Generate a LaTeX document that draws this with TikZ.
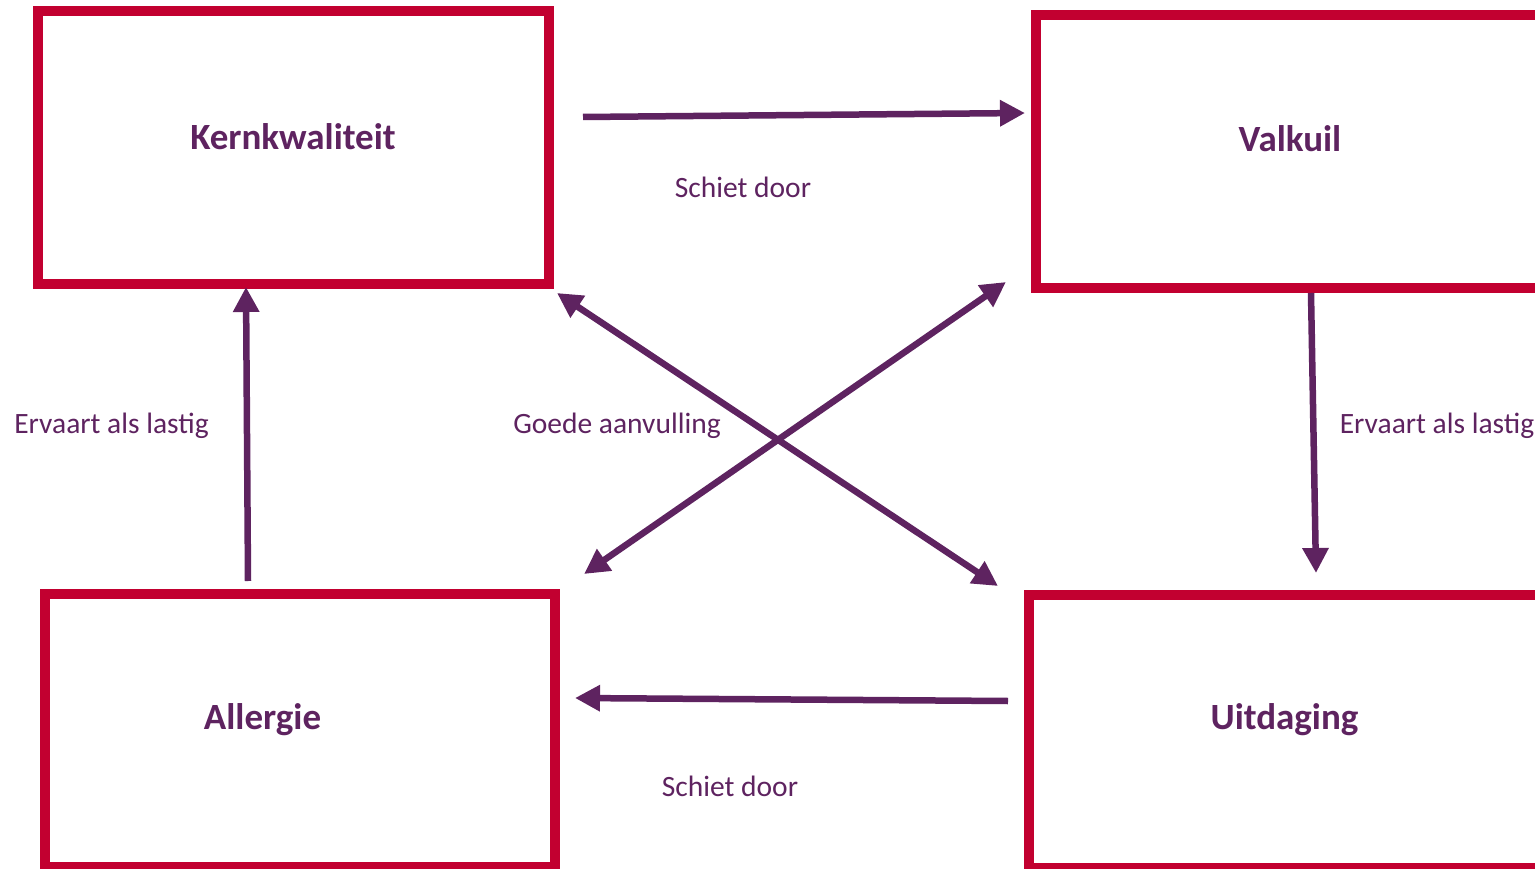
\documentclass[tikz,border=0pt]{standalone}
\usepackage{fontspec}
\setmainfont{Carlito}
\usetikzlibrary{arrows.meta}
\definecolor{boxred}{RGB}{194,0,48}
\definecolor{plum}{RGB}{94,35,96}
\tikzset{
  quadrant/.style={draw=boxred, line width=10pt, fill=white, rectangle, inner sep=0pt, outer sep=0pt, minimum height=273pt},
  title/.style={text=plum, font=\fontsize{37}{44}\selectfont\bfseries, inner sep=0pt},
  relation/.style={text=plum, font=\fontsize{29.5}{35}\selectfont, inner sep=0pt},
  link/.style={draw=plum, line width=6.5pt, -{Triangle[length=25pt,width=25pt]}},
  duallink/.style={draw=plum, line width=6.5pt, {Triangle[length=25pt,width=25pt]}-{Triangle[length=25pt,width=25pt]}}
}
\begin{document}
\begin{tikzpicture}[x=1pt, y=-1pt]
  \useasboundingbox (0,0) rectangle (1535,869);
  \clip (0,0) rectangle (1535,869);

  % the four quadrants
  \node[quadrant, minimum width=511pt]   (kbox) at (293.5,147.5) {};
  \node[quadrant, minimum width=505pt]   (vbox) at (1288.5,151.5) {};
  \node[quadrant, minimum width=510.5pt] (abox) at (299.75,730.5) {};
  \node[quadrant, minimum width=512.5pt] (ubox) at (1284.75,731.5) {};

  \node[title] (ktitle) at (293,137) {Kernkwaliteit};
  \node[title] (vtitle) at (1290,139) {Valkuil};
  \node[title] (atitle) at (262.5,720) {Allergie};
  \node[title] (utitle) at (1284.5,720) {Uitdaging};

  % arrow end points
  \coordinate (kv1) at (583,117);
  \coordinate (kv2) at (1025,113);
  \coordinate (vu1) at (1311,293);
  \coordinate (vu2) at (1316,573);
  \coordinate (ua1) at (1008,701);
  \coordinate (ua2) at (575,698);
  \coordinate (ak1) at (248,581);
  \coordinate (ak2) at (246,287);
  \coordinate (d1a) at (557,293);
  \coordinate (d1b) at (998,586);
  \coordinate (d2a) at (584,574);
  \coordinate (d2b) at (1006,282);

  \draw[link] (kv1) -- (kv2);
  \draw[link] (vu1) -- (vu2);
  \draw[link] (ua1) -- (ua2);
  \draw[link] (ak1) -- (ak2);
  \draw[duallink] (d1a) -- (d1b);
  \draw[duallink] (d2a) -- (d2b);

  % relation labels
  \node[relation] (l1) at (743,187) {Schiet door};
  \node[relation] (l2) at (730,786) {Schiet door};
  \node[relation] (l3) at (111.5,426) {Ervaart als lastig};
  \node[relation] (l4) at (617,426) {Goede aanvulling};
  \node[relation] (l5) at (1437,426) {Ervaart als lastig};
\end{tikzpicture}
\end{document}
